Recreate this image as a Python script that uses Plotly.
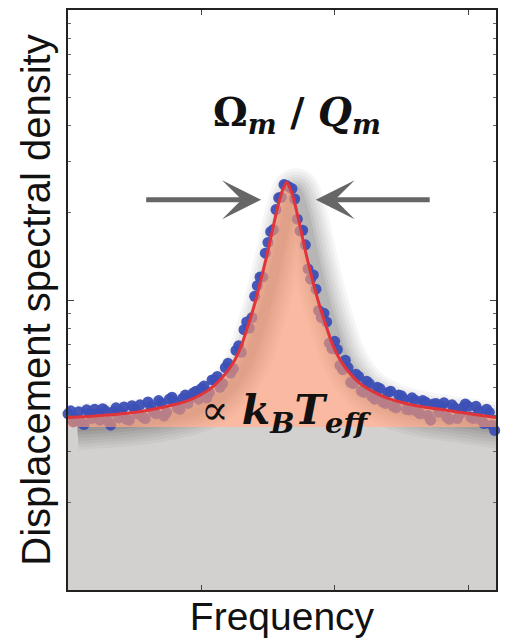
import plotly.graph_objects as go

# ---- data ----
# Lorentzian fit (red line)
fit_x = [0.00, 0.20, 0.40, 0.60, 0.80, 0.90, 1.00, 1.10, 1.20, 1.25, 1.30, 1.35, 1.40, 1.45,
         1.50, 1.54, 1.58, 1.61, 1.64, 1.67, 1.70, 1.74, 1.78, 1.83, 1.88, 1.93, 1.98, 2.03,
         2.08, 2.18, 2.28, 2.40, 2.60, 2.85, 3.05, 3.21]
fit_y = [3.93, 3.98, 4.05, 4.17, 4.36, 4.50, 4.72, 5.09, 5.72, 6.20, 6.95, 8.15, 9.70, 11.9,
         14.8, 18.0, 21.6, 24.0, 25.5, 24.0, 21.6, 18.0, 14.8, 11.9, 9.8, 8.3, 7.1, 6.35,
         5.85, 5.2, 4.85, 4.58, 4.33, 4.16, 4.03, 3.93]

# measured points (blue dots)
dot_x = [0.00, 0.02, 0.04, 0.06, 0.08, 0.10, 0.12, 0.14, 0.16, 0.18, 0.20, 0.22, 0.24, 0.26,
         0.28, 0.30, 0.32, 0.34, 0.36, 0.38, 0.40, 0.42, 0.44, 0.46, 0.48, 0.50, 0.52, 0.54,
         0.56, 0.58, 0.60, 0.62, 0.64, 0.66, 0.68, 0.70, 0.72, 0.74, 0.76, 0.78, 0.80, 0.82,
         0.84, 0.86, 0.88, 0.90, 0.92, 0.94, 0.96, 0.98, 1.00, 1.02, 1.04, 1.06, 1.08, 1.10,
         1.12, 1.14, 1.16, 1.18, 1.20, 1.22, 1.24, 1.26, 1.28, 1.30, 1.32, 1.34, 1.36, 1.38,
         1.40, 1.42, 1.44, 1.46, 1.48, 1.50, 1.52, 1.54, 1.56, 1.58, 1.60, 1.62, 1.64, 1.66,
         1.68, 1.70, 1.72, 1.74, 1.76, 1.78, 1.80, 1.82, 1.84, 1.86, 1.88, 1.90, 1.92, 1.94,
         1.96, 1.98, 2.00, 2.02, 2.04, 2.06, 2.08, 2.10, 2.12, 2.14, 2.16, 2.18, 2.20, 2.22,
         2.24, 2.26, 2.28, 2.30, 2.32, 2.34, 2.36, 2.38, 2.40, 2.42, 2.44, 2.46, 2.48, 2.50,
         2.52, 2.54, 2.56, 2.58, 2.60, 2.62, 2.64, 2.66, 2.68, 2.70, 2.72, 2.74, 2.76, 2.78,
         2.80, 2.82, 2.84, 2.86, 2.88, 2.90, 2.92, 2.94, 2.96, 2.98, 3.00, 3.02, 3.04, 3.06,
         3.08, 3.10, 3.12, 3.14, 3.16, 3.18, 3.20]
dot_y = [4.05, 4.15, 3.80, 3.88, 4.12, 3.78, 3.72, 4.18, 4.08, 3.90, 4.20, 4.05, 3.85, 4.22,
         4.15, 3.82, 3.70, 4.12, 4.25, 3.92, 4.10, 4.28, 3.88, 3.85, 4.32, 4.20, 4.05, 4.35,
         3.95, 3.90, 4.45, 4.30, 4.12, 4.05, 4.50, 4.40, 3.98, 4.10, 4.55, 4.62, 4.48, 4.25,
         4.20, 4.58, 4.70, 4.40, 4.62, 4.78, 4.85, 4.55, 4.95, 5.05, 4.60, 4.80, 5.30, 5.30,
         5.45, 5.00, 5.15, 5.85, 6.05, 5.60, 5.80, 6.70, 6.95, 6.60, 7.90, 8.40, 8.00, 8.70,
         10.3, 11.2, 12.0, 12.0, 14.5, 15.8, 17.2, 17.5, 20.5, 22.5, 22.6, 25.0, 24.8, 24.5,
         24.2, 22.3, 19.0, 17.3, 17.4, 15.5, 12.8, 11.8, 12.2, 10.9, 9.2, 8.7, 9.0, 8.4,
         7.1, 6.8, 7.20, 6.75, 5.95, 5.75, 6.20, 5.85, 5.20, 5.15, 5.55, 5.45, 4.85, 4.80,
         5.25, 5.15, 4.65, 4.55, 5.00, 4.95, 4.45, 4.40, 4.80, 4.85, 4.30, 4.25, 4.70, 4.68,
         4.55, 4.20, 4.18, 4.60, 4.52, 4.12, 4.05, 4.50, 4.45, 4.00, 3.85, 4.38, 4.40, 4.10,
         4.30, 4.42, 3.95, 3.88, 4.35, 4.25, 3.90, 4.05, 4.25, 4.38, 4.30, 3.95, 3.90, 4.30,
         4.15, 3.85, 3.75, 4.20, 4.10, 3.70, 3.55]

# thermal background level (grey) and axis extent
background_level = 3.65
x_extent = [0.0, 3.21]
y_floor = 1.0

x_ticks = [1, 2, 3]
y_ticks = [1, 10, 100]
y_minor = [2, 3, 4, 5, 6, 7, 8, 9, 20, 30, 40, 50, 60, 70, 80, 90]

# ---- figure ----
fig = go.Figure()

# grey background region
fig.add_trace(go.Scatter(x=x_extent, y=[y_floor, y_floor], mode="lines",
                         line=dict(width=0, color="rgba(0,0,0,0)"), hoverinfo="skip"))
fig.add_trace(go.Scatter(x=x_extent, y=[background_level, background_level], mode="lines",
                         fill="tonexty", fillcolor="#d3d1d0",
                         line=dict(width=0, color="rgba(0,0,0,0)"), hoverinfo="skip"))

# soft drop shadow (styling only: the fit shifted slightly right/down)
sh_x = [v + 0.07 for v in fit_x]
sh_y = [v * 0.93 for v in fit_y]
for w, a in [(46, 0.04), (40, 0.04), (34, 0.045), (28, 0.05), (22, 0.055), (16, 0.065), (10, 0.075)]:
    fig.add_trace(go.Scatter(x=sh_x, y=sh_y, mode="lines",
                             line=dict(width=w, color=f"rgba(30,30,30,{a})", shape="spline"),
                             hoverinfo="skip"))

# data points
fig.add_trace(go.Scatter(x=dot_x, y=dot_y, mode="markers", cliponaxis=False,
                         marker=dict(size=11, color="#3c50b6", opacity=0.95,
                                     line=dict(width=0)),
                         hoverinfo="skip"))

# orange area (from background level up to the fit)
fig.add_trace(go.Scatter(x=x_extent, y=[background_level, background_level], mode="lines",
                         line=dict(width=0, color="rgba(0,0,0,0)"), hoverinfo="skip"))
fig.add_trace(go.Scatter(x=fit_x, y=fit_y, mode="lines", fill="tonexty",
                         fillcolor="rgba(248,150,112,0.66)",
                         line=dict(width=0, color="rgba(0,0,0,0)"), hoverinfo="skip"))

# fit line
fig.add_trace(go.Scatter(x=fit_x, y=fit_y, mode="lines",
                         line=dict(width=3, color="#e0343a", shape="spline", smoothing=0.6),
                         hoverinfo="skip"))

# ---- annotations ----
fig.add_annotation(x=0.535, y=0.82, xref="paper", yref="paper", showarrow=False,
                   text="<b>Ω<sub><i>m</i></sub> / <i>Q</i><sub><i>m</i></sub></b>",
                   font=dict(family="DejaVu Serif", size=39, color="#111"),
                   xanchor="center", yanchor="middle")
fig.add_annotation(x=0.51, y=0.305, xref="paper", yref="paper", showarrow=False,
                   text="∝ <b><i>k</i><sub><i>B</i></sub><i>T</i><sub><i>eff</i></sub></b>",
                   font=dict(family="DejaVu Serif", size=41, color="#111"),
                   xanchor="center", yanchor="middle")

arrow_y_log = 1.346
for head, tail in [(1.448, 0.575), (1.858, 2.724)]:
    fig.add_annotation(x=head, y=arrow_y_log, ax=tail, ay=arrow_y_log,
                       xref="x", yref="y", axref="x", ayref="y",
                       showarrow=True, arrowhead=3, arrowsize=1.3, arrowwidth=5,
                       arrowcolor="#666666", text="")

axis_common = dict(showgrid=False, zeroline=False, showline=True, mirror="ticks",
                   linecolor="#222222", linewidth=2, ticks="inside", tickcolor="#444444",
                   showticklabels=False, automargin=False)
fig.update_xaxes(range=x_extent, tickvals=x_ticks, ticklen=5, **axis_common,
                 title=dict(text="Frequency", standoff=12,
                            font=dict(family="Liberation Sans", size=39, color="#111")))
fig.update_yaxes(type="log", range=[0, 2], tickvals=y_ticks, ticklen=6, **axis_common,
                 minor=dict(tickvals=y_minor, ticks="inside", ticklen=3, tickcolor="#666666"),
                 title=dict(text="Displacement spectral density", standoff=3,
                            font=dict(family="Liberation Sans", size=40, color="#111")))

# the page body adds an 8 px margin, so the figure is 8 px smaller than the window
fig.update_layout(width=505, height=634, margin=dict(l=60, r=17, t=2, b=52),
                  paper_bgcolor="white", plot_bgcolor="white", showlegend=False)

fig.write_html("out.html")
